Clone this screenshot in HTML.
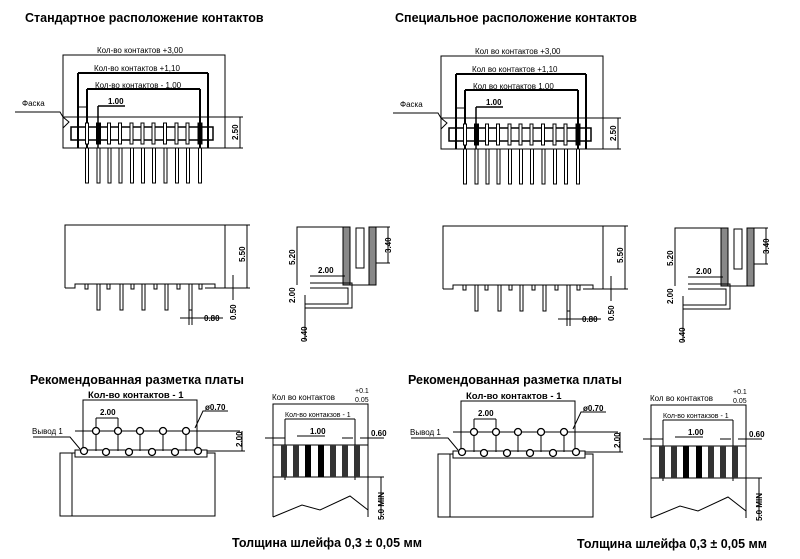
<!DOCTYPE html>
<html><head><meta charset="utf-8"><style>
html,body{margin:0;padding:0;background:#fff;width:800px;height:559px;overflow:hidden}
.t{position:absolute;font-family:"Liberation Sans",sans-serif;font-weight:bold;font-size:12.5px;color:#000;white-space:nowrap}
</style></head><body>
<div style="position:relative;width:800px;height:559px">
<svg width="800" height="559" viewBox="0 0 800 559" xmlns="http://www.w3.org/2000/svg" style="position:absolute;left:0;top:0">
<g transform="translate(0,0)">
<g fill="none" stroke="#000" stroke-width="1">
 <rect x="63" y="55" width="162" height="93"/>
 <line x1="63" y1="117" x2="243" y2="117"/>
 <line x1="225" y1="148" x2="243" y2="148"/>
 <line x1="240" y1="117" x2="240" y2="148"/>
 <polyline points="15,112 60,112 63,117 69,122 63,128"/>
 <rect x="71" y="127" width="142" height="13" stroke-width="1.5"/>
 <line x1="78" y1="73" x2="208" y2="73" stroke-width="2"/><line x1="78" y1="73" x2="78" y2="148" stroke-width="2"/><line x1="208" y1="73" x2="208" y2="148" stroke-width="2"/>
 <line x1="87" y1="89" x2="200" y2="89" stroke-width="2"/><line x1="87" y1="89" x2="87" y2="148" stroke-width="2"/><line x1="200" y1="89" x2="200" y2="148" stroke-width="2"/>
 <line x1="98" y1="106" x2="125" y2="106" stroke-width="1.5"/><line x1="98" y1="106" x2="98" y2="148" stroke-width="1.5"/>
 <line x1="78" y1="107" x2="86" y2="107"/>
 <rect x="85.5" y="123" width="3" height="21" fill="#fff"/><rect x="96.5" y="123" width="4" height="21" fill="#000"/><rect x="107.5" y="123" width="3" height="21" fill="#fff"/><rect x="118.5" y="123" width="3" height="21" fill="#fff"/><rect x="130" y="123" width="3" height="21" fill="#fff"/><rect x="141" y="123" width="3" height="21" fill="#fff"/><rect x="152" y="123" width="3" height="21" fill="#fff"/><rect x="163.5" y="123" width="3" height="21" fill="#fff"/><rect x="175" y="123" width="3" height="21" fill="#fff"/><rect x="186" y="123" width="3" height="21" fill="#fff"/><rect x="198" y="123" width="4" height="21" fill="#000"/>
 <rect x="85.5" y="148" width="3" height="35"/><rect x="97" y="148" width="3" height="35"/><rect x="108" y="148" width="3" height="35"/><rect x="119" y="148" width="3" height="35"/><rect x="130.5" y="148" width="3" height="35"/><rect x="141.5" y="148" width="3" height="35"/><rect x="152.5" y="148" width="3" height="35"/><rect x="164" y="148" width="3" height="35"/><rect x="175.5" y="148" width="3" height="35"/><rect x="186.5" y="148" width="3" height="35"/><rect x="198.5" y="148" width="3" height="35"/>
 <polyline points="65,288 65,225 225,225 225,288 205,288"/>
 <polyline points="65,288 75,288 75,284 215,284 215,288"/>
 <rect x="85" y="284" width="3" height="5"/><rect x="107" y="284" width="3" height="5"/><rect x="131" y="284" width="3" height="5"/><rect x="154" y="284" width="3" height="5"/><rect x="177" y="284" width="3" height="5"/><rect x="199" y="284" width="3" height="5"/>
 <rect x="97" y="284" width="3" height="26"/><rect x="120" y="284" width="3" height="26"/><rect x="142" y="284" width="3" height="26"/><rect x="165" y="284" width="3" height="26"/><rect x="189" y="284" width="3" height="26"/>
 <line x1="225" y1="225" x2="250" y2="225"/><line x1="225" y1="288" x2="250" y2="288"/><line x1="247" y1="225" x2="247" y2="288"/>
 <line x1="233" y1="275" x2="233" y2="300"/><line x1="180" y1="318" x2="223" y2="318"/><line x1="189" y1="310" x2="189" y2="325"/><line x1="192" y1="310" x2="192" y2="325"/>
 <polyline points="297,285 297,227 343,227"/>
 <rect x="343" y="227" width="7" height="58" fill="#888"/>
 <rect x="369" y="227" width="7" height="58" fill="#888"/>
 <rect x="356" y="228" width="8" height="40"/>
 <line x1="350" y1="285" x2="369" y2="285"/><line x1="376" y1="227" x2="390" y2="227"/><line x1="376" y1="263" x2="390" y2="263"/><line x1="388" y1="227" x2="388" y2="263"/>
 <line x1="310" y1="276" x2="345" y2="276"/><line x1="310" y1="283" x2="345" y2="283"/>
 <polyline points="310,283 352,283 352,308 305,308"/><polyline points="310,288 348,288 348,304 305,304"/>
 <line x1="305" y1="295" x2="305" y2="340"/>
 <polyline points="83,405 83,400 197,400 197,405"/>
 <line x1="83" y1="400" x2="83" y2="452"/><line x1="197" y1="400" x2="197" y2="452"/>
 <line x1="96" y1="418" x2="118" y2="418"/><line x1="96" y1="418" x2="96" y2="432"/><line x1="118" y1="418" x2="118" y2="432"/>
 <polyline points="195,428 203,411 228,411"/>
 <line x1="75" y1="431" x2="240" y2="431"/>
 <line x1="198" y1="451" x2="245" y2="451"/><line x1="242" y1="431" x2="242" y2="451"/>
 <polyline points="33,437 70,437 80,449"/>
 <rect x="60" y="453" width="155" height="63"/><line x1="72" y1="453" x2="72" y2="516"/>
 <rect x="75" y="450" width="132" height="7" fill="#fff"/>
 <line x1="96" y1="431" x2="96" y2="451"/><line x1="118" y1="431" x2="118" y2="451"/><line x1="140" y1="431" x2="140" y2="451"/><line x1="163" y1="431" x2="163" y2="451"/><line x1="186" y1="431" x2="186" y2="451"/>
 <circle cx="96" cy="431" r="3.5" fill="#fff" stroke-width="1.3"/><circle cx="118" cy="431" r="3.5" fill="#fff" stroke-width="1.3"/><circle cx="140" cy="431" r="3.5" fill="#fff" stroke-width="1.3"/><circle cx="163" cy="431" r="3.5" fill="#fff" stroke-width="1.3"/><circle cx="186" cy="431" r="3.5" fill="#fff" stroke-width="1.3"/>
 <circle cx="84" cy="451" r="3.5" fill="#fff" stroke-width="1.3"/><circle cx="106" cy="452" r="3.5" fill="#fff" stroke-width="1.3"/><circle cx="129" cy="452" r="3.5" fill="#fff" stroke-width="1.3"/><circle cx="152" cy="452" r="3.5" fill="#fff" stroke-width="1.3"/><circle cx="175" cy="452" r="3.5" fill="#fff" stroke-width="1.3"/><circle cx="198" cy="451" r="3.5" fill="#fff" stroke-width="1.3"/>
 <polyline points="273,410 273,404 368,404 368,410"/>
 <line x1="273" y1="404" x2="273" y2="517"/><line x1="368" y1="404" x2="368" y2="517"/>
 <line x1="285" y1="419" x2="355" y2="419"/><line x1="285" y1="419" x2="285" y2="480"/><line x1="355" y1="419" x2="355" y2="480"/>
 <line x1="297" y1="436" x2="325" y2="436"/>
 <line x1="265" y1="438" x2="285" y2="438"/><line x1="342" y1="438" x2="353" y2="438"/><line x1="360" y1="438" x2="384" y2="438"/>
 <line x1="273" y1="445" x2="368" y2="445"/><line x1="273" y1="477" x2="368" y2="477"/>
 <rect x="281" y="445" width="6" height="32" fill="#333" stroke="none"/><rect x="293" y="445" width="6" height="32" fill="#333" stroke="none"/><rect x="305" y="445" width="6" height="32" fill="#000" stroke="none"/><rect x="318" y="445" width="6" height="32" fill="#000" stroke="none"/><rect x="330" y="445" width="6" height="32" fill="#333" stroke="none"/><rect x="342" y="445" width="6" height="32" fill="#333" stroke="none"/><rect x="354" y="445" width="6" height="32" fill="#333" stroke="none"/>
 <polyline points="273,517 302,505 320,510 350,496 368,510"/>
 <line x1="368" y1="477" x2="384" y2="477"/><line x1="381" y1="477" x2="381" y2="517"/>
</g>
<g font-family="Liberation Sans, sans-serif" font-size="8" fill="#000">
 <text x="97" y="53">Кол-во контактов +3,00</text>
 <text x="94" y="71">Кол-во контактов +1,10</text>
 <text x="95" y="88">Кол-во контактов - 1,00</text>
 <text x="108" y="104" font-weight="bold">1.00</text>
 <text x="22" y="106">Фаска</text>
 <text font-weight="bold" transform="translate(238,140) rotate(-90)">2.50</text>
 <text font-weight="bold" transform="translate(245,262) rotate(-90)">5.50</text>
 <text font-weight="bold" transform="translate(236,320) rotate(-90)">0.50</text>
 <text x="204" y="321" font-weight="bold">0.80</text>
 <text font-weight="bold" transform="translate(295,265) rotate(-90)">5.20</text>
 <text font-weight="bold" transform="translate(391,253) rotate(-90)">3.40</text>
 <text x="318" y="273" font-weight="bold">2.00</text>
 <text font-weight="bold" transform="translate(295,303) rotate(-90)">2.00</text>
 <text font-weight="bold" transform="translate(307,342) rotate(-90)">0.40</text>
 <text x="30" y="384" font-size="12.5" font-weight="bold">Рекомендованная разметка платы</text>
 <text x="88" y="398" font-size="9.5" font-weight="bold">Кол-во контактов - 1</text>
 <text x="100" y="415" font-weight="bold">2.00</text>
 <text x="205" y="410" font-weight="bold">ø0.70</text>
 <text x="32" y="434">Вывод 1</text>
 <text font-weight="bold" transform="translate(242,447) rotate(-90)">2.00</text>
 <text x="272" y="400">Кол во контактов</text>
 <text x="355" y="393" font-size="7">+0.1</text>
 <text x="355" y="402" font-size="7">0.05</text>
 <text x="285" y="417" font-size="7">Кол-во контакзов - 1</text>
 <text x="310" y="434" font-weight="bold">1.00</text>
 <text x="371" y="436" font-weight="bold">0.60</text>
 <text font-weight="bold" transform="translate(384,520) rotate(-90)">5.0 MIN</text>
 <text x="232" y="547" font-size="12.5" font-weight="bold">Толщина шлейфа 0,3 ± 0,05 мм</text>
 <text x="25" y="22" font-size="12.5" font-weight="bold">Стандартное расположение контактов</text>
</g>
</g>
<g transform="translate(378,1)">
<g fill="none" stroke="#000" stroke-width="1">
 <rect x="63" y="55" width="162" height="93"/>
 <line x1="63" y1="117" x2="243" y2="117"/>
 <line x1="225" y1="148" x2="243" y2="148"/>
 <line x1="240" y1="117" x2="240" y2="148"/>
 <polyline points="15,112 60,112 63,117 69,122 63,128"/>
 <rect x="71" y="127" width="142" height="13" stroke-width="1.5"/>
 <line x1="78" y1="73" x2="208" y2="73" stroke-width="2"/><line x1="78" y1="73" x2="78" y2="148" stroke-width="2"/><line x1="208" y1="73" x2="208" y2="148" stroke-width="2"/>
 <line x1="87" y1="89" x2="200" y2="89" stroke-width="2"/><line x1="87" y1="89" x2="87" y2="148" stroke-width="2"/><line x1="200" y1="89" x2="200" y2="148" stroke-width="2"/>
 <line x1="98" y1="106" x2="125" y2="106" stroke-width="1.5"/><line x1="98" y1="106" x2="98" y2="148" stroke-width="1.5"/>
 <line x1="78" y1="107" x2="86" y2="107"/>
 <rect x="85.5" y="123" width="3" height="21" fill="#fff"/><rect x="96.5" y="123" width="4" height="21" fill="#000"/><rect x="107.5" y="123" width="3" height="21" fill="#fff"/><rect x="118.5" y="123" width="3" height="21" fill="#fff"/><rect x="130" y="123" width="3" height="21" fill="#fff"/><rect x="141" y="123" width="3" height="21" fill="#fff"/><rect x="152" y="123" width="3" height="21" fill="#fff"/><rect x="163.5" y="123" width="3" height="21" fill="#fff"/><rect x="175" y="123" width="3" height="21" fill="#fff"/><rect x="186" y="123" width="3" height="21" fill="#fff"/><rect x="198" y="123" width="4" height="21" fill="#000"/>
 <rect x="85.5" y="148" width="3" height="35"/><rect x="97" y="148" width="3" height="35"/><rect x="108" y="148" width="3" height="35"/><rect x="119" y="148" width="3" height="35"/><rect x="130.5" y="148" width="3" height="35"/><rect x="141.5" y="148" width="3" height="35"/><rect x="152.5" y="148" width="3" height="35"/><rect x="164" y="148" width="3" height="35"/><rect x="175.5" y="148" width="3" height="35"/><rect x="186.5" y="148" width="3" height="35"/><rect x="198.5" y="148" width="3" height="35"/>
 <polyline points="65,288 65,225 225,225 225,288 205,288"/>
 <polyline points="65,288 75,288 75,284 215,284 215,288"/>
 <rect x="85" y="284" width="3" height="5"/><rect x="107" y="284" width="3" height="5"/><rect x="131" y="284" width="3" height="5"/><rect x="154" y="284" width="3" height="5"/><rect x="177" y="284" width="3" height="5"/><rect x="199" y="284" width="3" height="5"/>
 <rect x="97" y="284" width="3" height="26"/><rect x="120" y="284" width="3" height="26"/><rect x="142" y="284" width="3" height="26"/><rect x="165" y="284" width="3" height="26"/><rect x="189" y="284" width="3" height="26"/>
 <line x1="225" y1="225" x2="250" y2="225"/><line x1="225" y1="288" x2="250" y2="288"/><line x1="247" y1="225" x2="247" y2="288"/>
 <line x1="233" y1="275" x2="233" y2="300"/><line x1="180" y1="318" x2="223" y2="318"/><line x1="189" y1="310" x2="189" y2="325"/><line x1="192" y1="310" x2="192" y2="325"/>
 <polyline points="297,285 297,227 343,227"/>
 <rect x="343" y="227" width="7" height="58" fill="#888"/>
 <rect x="369" y="227" width="7" height="58" fill="#888"/>
 <rect x="356" y="228" width="8" height="40"/>
 <line x1="350" y1="285" x2="369" y2="285"/><line x1="376" y1="227" x2="390" y2="227"/><line x1="376" y1="263" x2="390" y2="263"/><line x1="388" y1="227" x2="388" y2="263"/>
 <line x1="310" y1="276" x2="345" y2="276"/><line x1="310" y1="283" x2="345" y2="283"/>
 <polyline points="310,283 352,283 352,308 305,308"/><polyline points="310,288 348,288 348,304 305,304"/>
 <line x1="305" y1="295" x2="305" y2="340"/>
 <polyline points="83,405 83,400 197,400 197,405"/>
 <line x1="83" y1="400" x2="83" y2="452"/><line x1="197" y1="400" x2="197" y2="452"/>
 <line x1="96" y1="418" x2="118" y2="418"/><line x1="96" y1="418" x2="96" y2="432"/><line x1="118" y1="418" x2="118" y2="432"/>
 <polyline points="195,428 203,411 228,411"/>
 <line x1="75" y1="431" x2="240" y2="431"/>
 <line x1="198" y1="451" x2="245" y2="451"/><line x1="242" y1="431" x2="242" y2="451"/>
 <polyline points="33,437 70,437 80,449"/>
 <rect x="60" y="453" width="155" height="63"/><line x1="72" y1="453" x2="72" y2="516"/>
 <rect x="75" y="450" width="132" height="7" fill="#fff"/>
 <line x1="96" y1="431" x2="96" y2="451"/><line x1="118" y1="431" x2="118" y2="451"/><line x1="140" y1="431" x2="140" y2="451"/><line x1="163" y1="431" x2="163" y2="451"/><line x1="186" y1="431" x2="186" y2="451"/>
 <circle cx="96" cy="431" r="3.5" fill="#fff" stroke-width="1.3"/><circle cx="118" cy="431" r="3.5" fill="#fff" stroke-width="1.3"/><circle cx="140" cy="431" r="3.5" fill="#fff" stroke-width="1.3"/><circle cx="163" cy="431" r="3.5" fill="#fff" stroke-width="1.3"/><circle cx="186" cy="431" r="3.5" fill="#fff" stroke-width="1.3"/>
 <circle cx="84" cy="451" r="3.5" fill="#fff" stroke-width="1.3"/><circle cx="106" cy="452" r="3.5" fill="#fff" stroke-width="1.3"/><circle cx="129" cy="452" r="3.5" fill="#fff" stroke-width="1.3"/><circle cx="152" cy="452" r="3.5" fill="#fff" stroke-width="1.3"/><circle cx="175" cy="452" r="3.5" fill="#fff" stroke-width="1.3"/><circle cx="198" cy="451" r="3.5" fill="#fff" stroke-width="1.3"/>
 <polyline points="273,410 273,404 368,404 368,410"/>
 <line x1="273" y1="404" x2="273" y2="517"/><line x1="368" y1="404" x2="368" y2="517"/>
 <line x1="285" y1="419" x2="355" y2="419"/><line x1="285" y1="419" x2="285" y2="480"/><line x1="355" y1="419" x2="355" y2="480"/>
 <line x1="297" y1="436" x2="325" y2="436"/>
 <line x1="265" y1="438" x2="285" y2="438"/><line x1="342" y1="438" x2="353" y2="438"/><line x1="360" y1="438" x2="384" y2="438"/>
 <line x1="273" y1="445" x2="368" y2="445"/><line x1="273" y1="477" x2="368" y2="477"/>
 <rect x="281" y="445" width="6" height="32" fill="#333" stroke="none"/><rect x="293" y="445" width="6" height="32" fill="#333" stroke="none"/><rect x="305" y="445" width="6" height="32" fill="#000" stroke="none"/><rect x="318" y="445" width="6" height="32" fill="#000" stroke="none"/><rect x="330" y="445" width="6" height="32" fill="#333" stroke="none"/><rect x="342" y="445" width="6" height="32" fill="#333" stroke="none"/><rect x="354" y="445" width="6" height="32" fill="#333" stroke="none"/>
 <polyline points="273,517 302,505 320,510 350,496 368,510"/>
 <line x1="368" y1="477" x2="384" y2="477"/><line x1="381" y1="477" x2="381" y2="517"/>
</g>
<g font-family="Liberation Sans, sans-serif" font-size="8" fill="#000">
 <text x="97" y="53">Кол во контактов +3,00</text>
 <text x="94" y="71">Кол во контактов +1,10</text>
 <text x="95" y="88">Кол во контактов  1,00</text>
 <text x="108" y="104" font-weight="bold">1.00</text>
 <text x="22" y="106">Фаска</text>
 <text font-weight="bold" transform="translate(238,140) rotate(-90)">2.50</text>
 <text font-weight="bold" transform="translate(245,262) rotate(-90)">5.50</text>
 <text font-weight="bold" transform="translate(236,320) rotate(-90)">0.50</text>
 <text x="204" y="321" font-weight="bold">0.80</text>
 <text font-weight="bold" transform="translate(295,265) rotate(-90)">5.20</text>
 <text font-weight="bold" transform="translate(391,253) rotate(-90)">3.40</text>
 <text x="318" y="273" font-weight="bold">2.00</text>
 <text font-weight="bold" transform="translate(295,303) rotate(-90)">2.00</text>
 <text font-weight="bold" transform="translate(307,342) rotate(-90)">0.40</text>
 <text x="30" y="383" font-size="12.5" font-weight="bold">Рекомендованная разметка платы</text>
 <text x="88" y="398" font-size="9.5" font-weight="bold">Кол-во контактов - 1</text>
 <text x="100" y="415" font-weight="bold">2.00</text>
 <text x="205" y="410" font-weight="bold">ø0.70</text>
 <text x="32" y="434">Вывод 1</text>
 <text font-weight="bold" transform="translate(242,447) rotate(-90)">2.00</text>
 <text x="272" y="400">Кол во контактов</text>
 <text x="355" y="393" font-size="7">+0.1</text>
 <text x="355" y="402" font-size="7">0.05</text>
 <text x="285" y="417" font-size="7">Кол-во контакзов - 1</text>
 <text x="310" y="434" font-weight="bold">1.00</text>
 <text x="371" y="436" font-weight="bold">0.60</text>
 <text font-weight="bold" transform="translate(384,520) rotate(-90)">5.0 MIN</text>
 <text x="199" y="547" font-size="12.5" font-weight="bold">Толщина шлейфа 0,3 ± 0,05 мм</text>
 <text x="17" y="21" font-size="12.5" font-weight="bold">Специальное расположение контактов</text>
</g>
</g>
</svg>
</div>
</body></html>
